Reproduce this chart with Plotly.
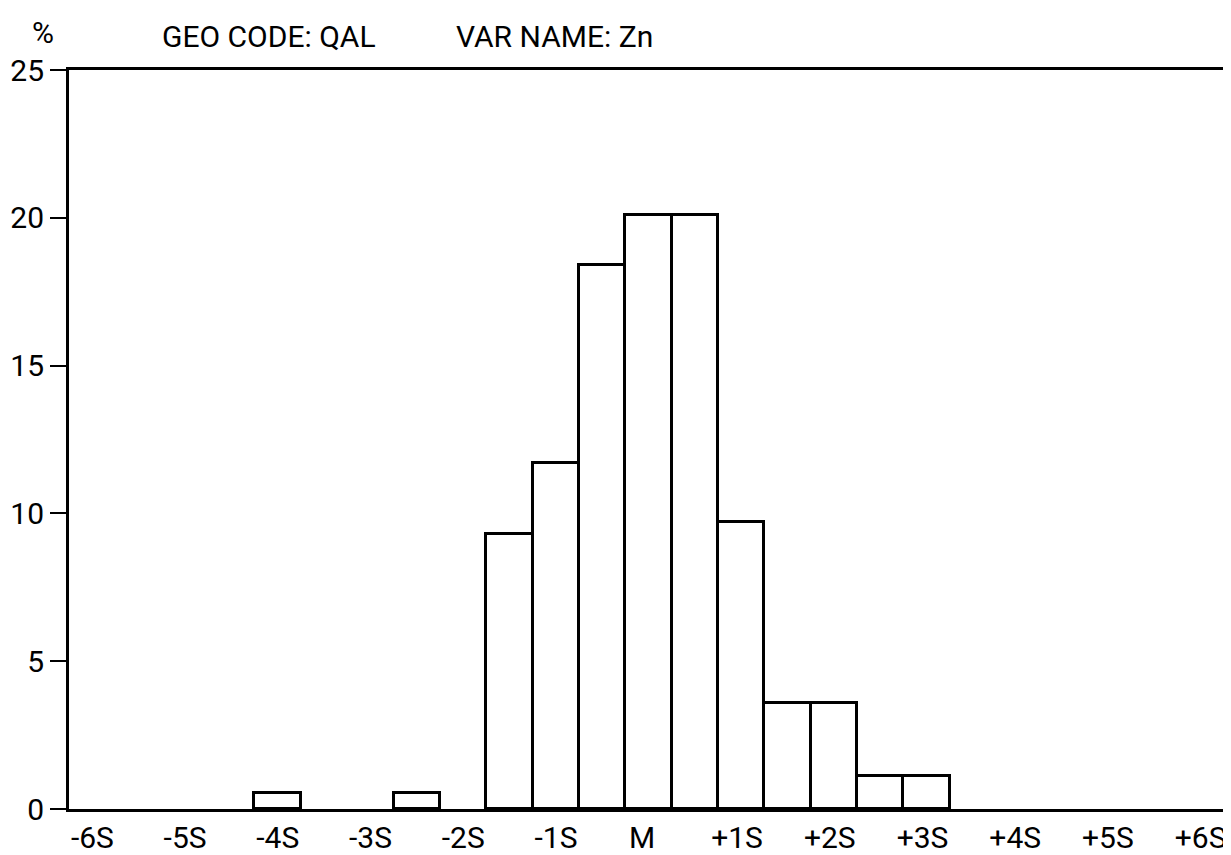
import plotly.graph_objects as go

# Histogram bins (in units of standard deviation S, relative to the mean M)
bin_start_s = [-4.5, -3.0, -2.0, -1.5, -1.0, -0.5, 0.0, 0.5, 1.0, 1.5, 2.0, 2.5]
percent = [0.55, 0.55, 9.3, 11.7, 18.4, 20.1, 20.1, 9.7, 3.6, 3.6, 1.1, 1.1]
bin_width_s = 0.5

# Axis ticks
x_tick_vals = [-6, -5, -4, -3, -2, -1, 0, 1, 2, 3, 4, 5, 6]
x_tick_text = ["-6S", "-5S", "-4S", "-3S", "-2S", "-1S", "M\u00a0\u00a0",
               "+1S", "+2S", "+3S", "+4S", "+5S", "+6S"]
y_tick_vals = [0, 5, 10, 15, 20, 25]

FONT = "Roboto, Liberation Sans, sans-serif"
FS = 30

centers = [s + bin_width_s / 2 for s in bin_start_s]

fig = go.Figure()
fig.add_trace(go.Bar(
    x=centers,
    y=percent,
    width=bin_width_s,
    marker=dict(color="white", line=dict(color="black", width=3)),
    showlegend=False,
    hoverinfo="skip",
))

fig.update_layout(
    width=1231,
    height=855,
    paper_bgcolor="white",
    plot_bgcolor="white",
    margin=dict(l=61, r=11, t=62, b=54),
    font=dict(family=FONT, size=FS, color="black"),
    bargap=0,
)

fig.update_xaxes(
    range=[-6.5, 6],
    tickmode="array",
    tickvals=x_tick_vals,
    ticktext=x_tick_text,
    ticks="",
    ticklabelposition="outside left",
    showgrid=False,
    zeroline=False,
    showline=True,
    linecolor="black",
    linewidth=3,
    mirror=True,
    automargin=False,
    tickfont=dict(family=FONT, size=FS, color="black"),
)

fig.update_yaxes(
    range=[0, 25],
    tickmode="array",
    tickvals=y_tick_vals,
    ticks="outside",
    ticklen=16,
    tickwidth=2,
    tickcolor="black",
    showgrid=False,
    zeroline=False,
    showline=True,
    linecolor="black",
    linewidth=3,
    mirror=True,
    automargin=False,
    tickfont=dict(family=FONT, size=FS, color="black"),
)

fig.add_annotation(text="%", xref="paper", yref="paper", x=-0.0224, y=1,
                   yshift=38, xanchor="center", yanchor="middle", showarrow=False,
                   font=dict(family=FONT, size=FS, color="black"))
fig.add_annotation(text="GEO CODE: QAL", xref="paper", yref="paper", x=0.0785, y=1,
                   yshift=34, xanchor="left", yanchor="middle", showarrow=False,
                   font=dict(family=FONT, size=FS, color="black"))
fig.add_annotation(text="VAR NAME: Zn", xref="paper", yref="paper", x=0.332, y=1,
                   yshift=34, xanchor="left", yanchor="middle", showarrow=False,
                   font=dict(family=FONT, size=FS, color="black"))

fig.write_html("out.html")
